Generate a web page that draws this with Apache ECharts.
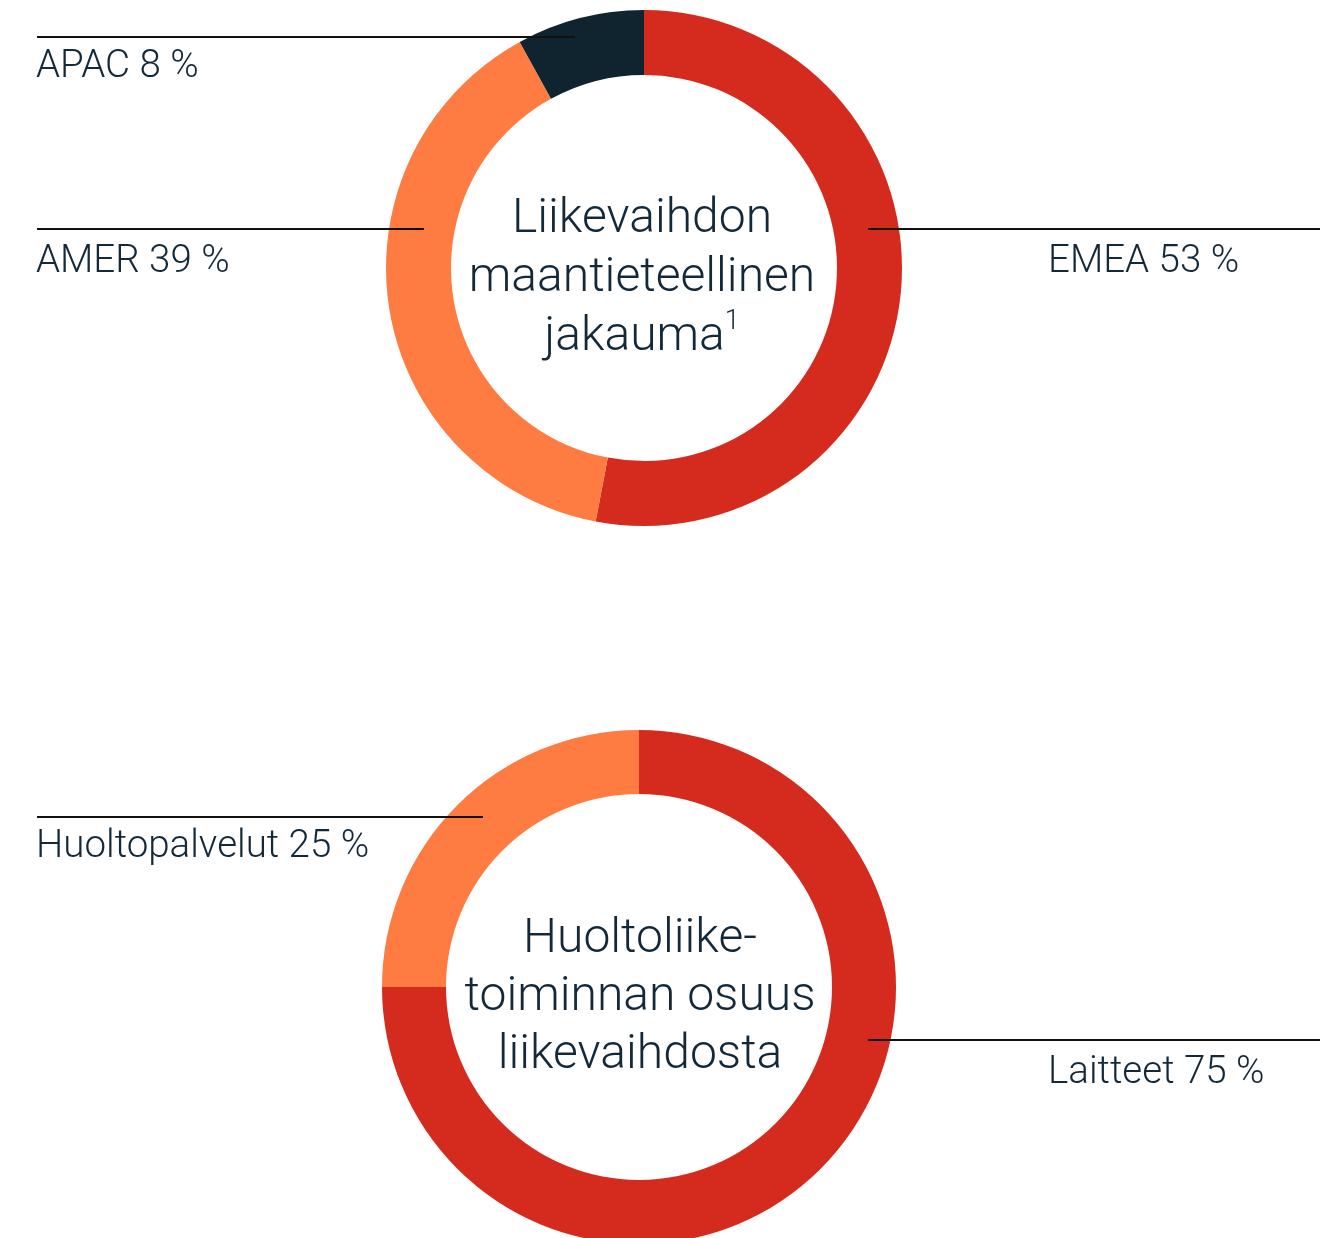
<!DOCTYPE html>
<html>
<head>
<meta charset="utf-8">
<script src="https://cdn.jsdelivr.net/npm/echarts@6/dist/echarts.min.js"></script>
<style>
  html, body { margin: 0; padding: 0; background: #fff; }
  #chart { width: 1331px; height: 1238px; }
</style>
</head>
<body>
<div id="chart"></div>
<script>
// data
const regionNames = ['EMEA', 'AMER', 'APAC'];
const regionShares = [53, 39, 8];
const serviceNames = ['Laitteet', 'Huoltopalvelut'];
const serviceShares = [75, 25];

// colours
const RED = '#d52b1e';
const ORANGE = '#fe7c42';
const NAVY = '#10242f';
const TEXT = '#13293a';
const FONT = 'Roboto';

// label placement: text anchor + leader line (x1 -> x2 at y)
const regionLabels = [
  { x: 1048, y: 262, line: [868, 1320, 229] },
  { x: 36, y: 262, line: [424, 37, 229] },
  { x: 36, y: 67, line: [575, 37, 37] }
];
const serviceLabels = [
  { x: 1048, y: 1073, line: [868, 1320, 1040] },
  { x: 36, y: 847, line: [483, 37, 817] }
];

const layoutFrom = (list) => (params) => {
  const p = list[params.dataIndex];
  const [x1, x2, ly] = p.line;
  return {
    x: p.x,
    y: p.y,
    align: 'left',
    verticalAlign: 'middle',
    labelLinePoints: [[x1, ly], [(x1 + x2) / 2, ly], [x2, ly]]
  };
};

// visible ring, no labels
const ringSeries = (names, values, colors, center, radius) => ({
  type: 'pie',
  z: 1,
  center,
  radius,
  startAngle: 90,
  clockwise: true,
  silent: true,
  data: names.map((n, i) => ({ name: n, value: values[i], itemStyle: { color: colors[i] } })),
  label: { show: false },
  labelLine: { show: false }
});

// transparent copy on top that carries labels + leader lines (so lines sit over the ring)
const labelSeries = (names, values, center, radius, labels) => ({
  type: 'pie',
  z: 5,
  center,
  radius,
  startAngle: 90,
  clockwise: true,
  silent: true,
  itemStyle: { color: 'rgba(0,0,0,0)' },
  data: names.map((n, i) => ({ name: n, value: values[i] })),
  label: {
    show: true,
    formatter: '{b} {c} %',
    color: TEXT,
    fontFamily: FONT,
    fontWeight: 300,
    fontSize: 38.5
  },
  labelLine: {
    show: true,
    showAbove: true,
    lineStyle: { color: '#111', width: 2 }
  },
  labelLayout: layoutFrom(labels)
});

const chart = echarts.init(document.getElementById('chart'));
chart.setOption({
  animation: false,
  series: [
    ringSeries(regionNames, regionShares, [RED, ORANGE, NAVY], [644, 268], [193, 258]),
    ringSeries(serviceNames, serviceShares, [RED, ORANGE], [639, 987], [193, 257]),
    labelSeries(regionNames, regionShares, [644, 268], [193, 258], regionLabels),
    labelSeries(serviceNames, serviceShares, [639, 987], [193, 257], serviceLabels)
  ],
  graphic: [
    {
      type: 'text',
      x: 642,
      y: 279,
      style: {
        text: 'Liikevaihdon\nmaantieteellinen\njakauma{sup|1}',
        align: 'center',
        verticalAlign: 'middle',
        fill: TEXT,
        font: '300 48px ' + FONT,
        lineHeight: 59,
        rich: {
          sup: { fontSize: 27, fontWeight: 300, fontFamily: FONT, fill: TEXT, verticalAlign: 'top', lineHeight: 59 }
        }
      }
    },
    {
      type: 'text',
      x: 640,
      y: 998,
      style: {
        text: 'Huoltoliike-\ntoiminnan osuus\nliikevaihdosta',
        align: 'center',
        verticalAlign: 'middle',
        fill: TEXT,
        font: '300 48px ' + FONT,
        lineHeight: 58
      }
    }
  ]
});
</script>
</body>
</html>
